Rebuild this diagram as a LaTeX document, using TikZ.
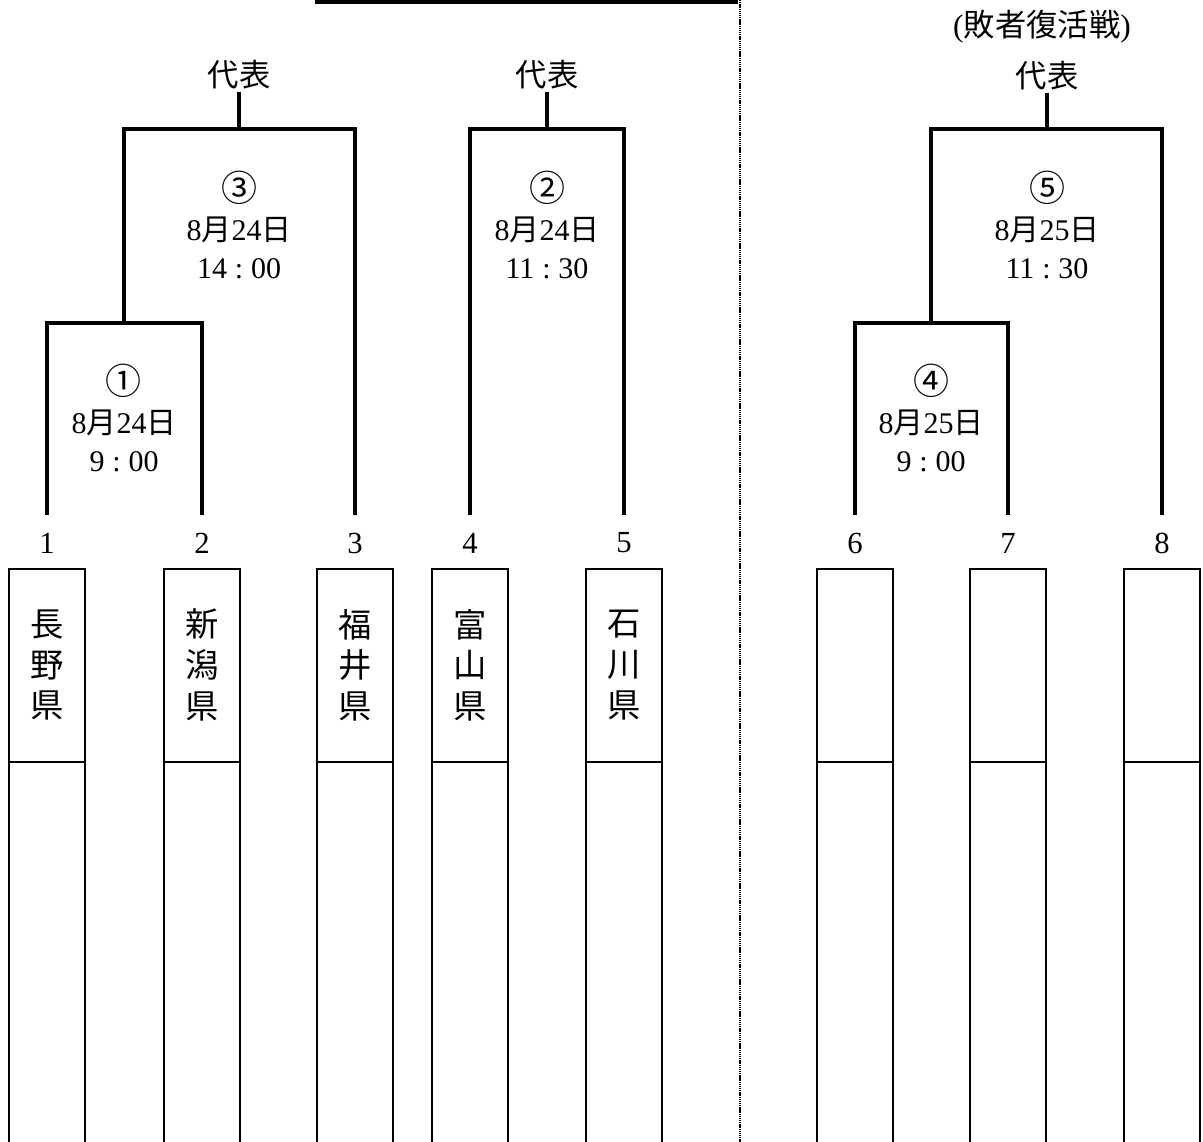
\documentclass[tikz,border=0pt]{standalone}
\usepackage{fontspec}
\setmainfont{Liberation Serif}
\newfontfamily\jp{Noto Sans CJK JP}
\usetikzlibrary{positioning}

\newcommand{\circnum}[1]{{\jp\fontsize{27}{29}\selectfont #1}}
\newcommand{\tcolon}{\makebox[0.8em]{:}}

\begin{document}
\begin{tikzpicture}[x=0.75pt, y=-0.75pt,
    bracket/.style={line width=3pt},
    boxline/.style={line width=1pt},
    divider/.style={line width=2pt, black, dash pattern=on 1pt off 0.6pt},
    teamno/.style={inner sep=0pt, font=\fontsize{23}{26}\selectfont},
    pref/.style={inner sep=0pt, align=center, font=\jp\fontsize{25}{30.5}\selectfont},
    info/.style={inner sep=0pt, align=center, font=\fontsize{22.5}{29}\selectfont},
    rep/.style={inner sep=2pt, font=\fontsize{23.5}{26}\selectfont}]
\useasboundingbox (0,0) rectangle (1203,1142);

% Team columns: number, open box with divider, foot of bracket
\foreach \i/\x in {1/47, 2/202, 3/355, 4/470, 5/624, 6/855, 7/1008, 8/1162} {
    \coordinate (f\i) at (\x,515);
    \node[teamno] (n\i) at (\x,543) {\i};
    \draw[boxline] (\x-38,1143) |- (\x+38,569) -- (\x+38,1143);
    \draw[boxline] (\x-38,762) -- (\x+38,762);
}

% Prefecture names (vertical)
\node[pref] (p1) at (47,665) {長\\野\\県};
\node[pref] (p2) at (202,665) {新\\潟\\県};
\node[pref] (p3) at (355,665) {福\\井\\県};
\node[pref] (p4) at (470,665) {富\\山\\県};
\node[pref] (p5) at (624,665) {石\\川\\県};

% Match joints
\coordinate (m1) at (124,323);
\coordinate (m3) at (239,129);
\coordinate (m2) at (547,129);
\coordinate (m4) at (931,323);
\coordinate (m5) at (1047,129);

% Representatives
\node[rep] (r3) at (239,75) {\jp 代表};
\node[rep] (r2) at (547,75) {\jp 代表};
\node[rep] (r5) at (1047,76) {\jp 代表};
\node[rep] (lc) at (1042,27) {({\jp 敗者復活戦})};

% Brackets
\draw[bracket] (f1) |- (m1) -| (f2);
\draw[bracket] (m1) |- (m3) -| (f3);
\draw[bracket] (m3) -- (r3.south);
\draw[bracket] (f4) |- (m2) -| (f5);
\draw[bracket] (m2) -- (r2.south);
\draw[bracket] (f6) |- (m4) -| (f7);
\draw[bracket] (m4) |- (m5) -| (f8);
\draw[bracket] (m5) -- (r5.south);

% Match number, date and time
\node[info] (i1) at (124,418) {\circnum{①}\\8{\jp 月}24{\jp 日}\\9\tcolon00};
\node[info] (i3) at (239,225) {\circnum{③}\\8{\jp 月}24{\jp 日}\\14\tcolon00};
\node[info] (i2) at (547,225) {\circnum{②}\\8{\jp 月}24{\jp 日}\\11\tcolon30};
\node[info] (i4) at (931,418) {\circnum{④}\\8{\jp 月}25{\jp 日}\\9\tcolon00};
\node[info] (i5) at (1047,225) {\circnum{⑤}\\8{\jp 月}25{\jp 日}\\11\tcolon30};

% Final line (top) and dotted divider
\coordinate (tl) at (315,2);
\coordinate (tr) at (738,2);
\draw[bracket] (tl) -- (tr);
\coordinate (dtop) at (740,0);
\coordinate (dbot) at (740,1142);
\draw[divider] (dtop) -- (dbot);

\end{tikzpicture}
\end{document}
